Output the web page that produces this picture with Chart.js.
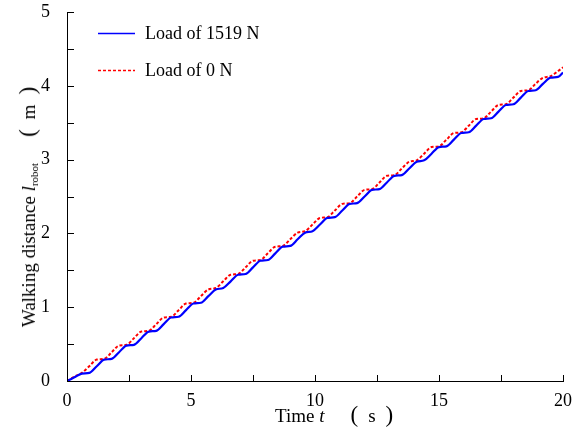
<!DOCTYPE html>
<html>
<head>
<meta charset="utf-8">
<script src="https://cdn.jsdelivr.net/npm/chart.js@4.4.1/dist/chart.umd.min.js"></script>
<style>
  html, body { margin: 0; padding: 0; background: #fff; }
  #wrap { position: relative; width: 587px; height: 437px; font-family: "Liberation Serif", serif; color: #000; }
  #chart { position: absolute; left: 0; top: 0; }
  .title { position: absolute; font-size: 19px; white-space: nowrap; line-height: 1; }
  .paren { font-size: 23px; display: inline-block; }
  .gap { display: inline-block; width: 26px; }
  .in { display: inline-block; margin: 0 10px; }
  #xtitle { left: 275px; top: 403px; }
  #ytitle { left: 28px; top: 207px; transform: translate(-50%, -50%) rotate(-90deg); }
  sub { font-size: 11px; vertical-align: -3px; }
</style>
</head>
<body>
<div id="wrap">
  <canvas id="chart" width="587" height="437"></canvas>
  <div id="xtitle" class="title">Time <i>t</i><span class="gap"></span><span class="paren">(</span><span class="in">s</span><span class="paren">)</span></div>
  <div id="ytitle" class="title">Walking distance <i>l</i><sub>robot</sub><span class="gap"></span><span class="paren">(</span><span class="in">m</span><span class="paren">)</span></div>
</div>
<script>
// time samples (s)
const times = [
  0.0, 0.3, 0.6, 0.9, 1.2, 1.5, 1.8, 2.1, 2.4, 2.7, 3.0, 3.3, 3.6, 3.9, 4.2, 4.5, 4.8,
  5.1, 5.4, 5.7, 6.0, 6.3, 6.6, 6.9, 7.2, 7.5, 7.8, 8.1, 8.4, 8.7, 9.0, 9.3, 9.6, 9.9,
  10.2, 10.5, 10.8, 11.1, 11.4, 11.7, 12.0, 12.3, 12.6, 12.9, 13.2, 13.5, 13.8, 14.1, 14.4, 14.7,
  15.0, 15.3, 15.6, 15.9, 16.2, 16.5, 16.8, 17.1, 17.4, 17.7, 18.0, 18.3, 18.6, 18.9, 19.2, 19.5,
  19.8, 20.0
];

// walking distance with 1519 N load (m)
const load1519 = [
  0.00, 0.05, 0.10, 0.11, 0.20, 0.29, 0.30, 0.39, 0.48, 0.49, 0.58, 0.67, 0.68, 0.77, 0.86, 0.87, 0.96,
  1.05, 1.06, 1.15, 1.24, 1.26, 1.35, 1.44, 1.45, 1.54, 1.63, 1.64, 1.73, 1.82, 1.83, 1.92, 2.01, 2.03,
  2.12, 2.21, 2.22, 2.31, 2.40, 2.41, 2.50, 2.59, 2.60, 2.69, 2.78, 2.79, 2.88, 2.97, 2.99, 3.08,
  3.17, 3.18, 3.27, 3.36, 3.37, 3.46, 3.55, 3.56, 3.65, 3.74, 3.75, 3.84, 3.93, 3.94, 4.03, 4.11,
  4.12, 4.18
];

// walking distance with no load (m)
const load0 = [
  0.00, 0.06, 0.11, 0.20, 0.29, 0.30, 0.39, 0.48, 0.49, 0.58, 0.67, 0.68, 0.77, 0.86, 0.87, 0.96, 1.05,
  1.06, 1.15, 1.24, 1.26, 1.35, 1.44, 1.45, 1.54, 1.63, 1.64, 1.73, 1.82, 1.83, 1.92, 2.01, 2.03, 2.12,
  2.21, 2.22, 2.31, 2.40, 2.41, 2.50, 2.59, 2.60, 2.69, 2.78, 2.79, 2.88, 2.97, 2.99, 3.08, 3.17,
  3.18, 3.27, 3.36, 3.37, 3.46, 3.55, 3.56, 3.65, 3.74, 3.75, 3.84, 3.93, 3.94, 4.03, 4.11, 4.13,
  4.20, 4.25
];

const xTicks = [0, 5, 10, 15, 20];
const yTicks = [0, 1, 2, 3, 4, 5];
const seriesNames = ['Load of 1519 N', 'Load of 0 N'];

const FONT = 'Liberation Serif';

// inward tick marks on the left and bottom axes
const inwardTicks = {
  id: 'inwardTicks',
  afterDraw(chart) {
    const { ctx, chartArea, scales } = chart;
    ctx.save();
    ctx.strokeStyle = '#000';
    ctx.lineWidth = 1;
    ctx.beginPath();
    scales.x.ticks.forEach((t) => {
      const px = Math.round(scales.x.getPixelForValue(t.value)) + 0.5;
      ctx.moveTo(px, chartArea.bottom);
      ctx.lineTo(px, chartArea.bottom - 6);
    });
    scales.y.ticks.forEach((t) => {
      const py = Math.round(scales.y.getPixelForValue(t.value)) + 0.5;
      ctx.moveTo(chartArea.left, py);
      ctx.lineTo(chartArea.left + 7, py);
    });
    ctx.stroke();
    ctx.restore();
  },
};

// legend drawn inside the plot, top left
const innerLegend = {
  id: 'innerLegend',
  afterDraw(chart) {
    const { ctx } = chart;
    ctx.save();
    ctx.font = '18px "' + FONT + '"';
    ctx.textBaseline = 'middle';
    ctx.fillStyle = '#000';
    chart.data.datasets.forEach((ds, i) => {
      const y = 33 + i * 37;
      ctx.strokeStyle = ds.borderColor;
      ctx.lineWidth = 1.5;
      ctx.setLineDash(ds.borderDash || []);
      ctx.beginPath();
      ctx.moveTo(98, y + 0.5);
      ctx.lineTo(135, y + 0.5);
      ctx.stroke();
      ctx.setLineDash([]);
      ctx.fillText(ds.label, 145, y + 1);
    });
    ctx.restore();
  },
};

new Chart(document.getElementById('chart').getContext('2d'), {
  type: 'line',
  data: {
    datasets: [
      {
        label: seriesNames[0],
        data: times.map((t, i) => ({ x: t, y: load1519[i] })),
        borderColor: '#0000ff',
        borderWidth: 2.2,
        pointRadius: 0,
        cubicInterpolationMode: 'monotone',
      },
      {
        label: seriesNames[1],
        data: times.map((t, i) => ({ x: t, y: load0[i] })),
        borderColor: '#ff0000',
        borderWidth: 2,
        borderDash: [3, 2],
        pointRadius: 0,
        cubicInterpolationMode: 'monotone',
      },
    ],
  },
  options: {
    responsive: false,
    animation: false,
    events: [],
    layout: { padding: { top: 12, right: 24, left: 0, bottom: 0 } },
    plugins: { legend: { display: false }, tooltip: { enabled: false } },
    scales: {
      x: {
        type: 'linear',
        min: 0,
        max: 20,
        ticks: {
          stepSize: 2.5,
          autoSkip: false,
          maxRotation: 0,
          padding: 1,
          color: '#000',
          font: { family: FONT, size: 18 },
          callback: (v) => (xTicks.includes(v) ? String(v) : ''),
        },
        grid: { display: false },
        border: { display: true, color: '#000', width: 1 },
        afterFit: (s) => { s.height = 56; s.paddingLeft = 0; s.paddingRight = 0; },
      },
      y: {
        type: 'linear',
        min: 0,
        max: 5,
        ticks: {
          stepSize: 0.5,
          autoSkip: false,
          padding: 9,
          color: '#000',
          font: { family: FONT, size: 18 },
          callback: (v) => (yTicks.includes(v) ? String(v) : ''),
        },
        grid: { display: false },
        border: { display: true, color: '#000', width: 1 },
        afterFit: (s) => { s.width = 67; s.paddingTop = 0; s.paddingBottom = 0; },
      },
    },
  },
  plugins: [inwardTicks, innerLegend],
});
</script>
</body>
</html>
